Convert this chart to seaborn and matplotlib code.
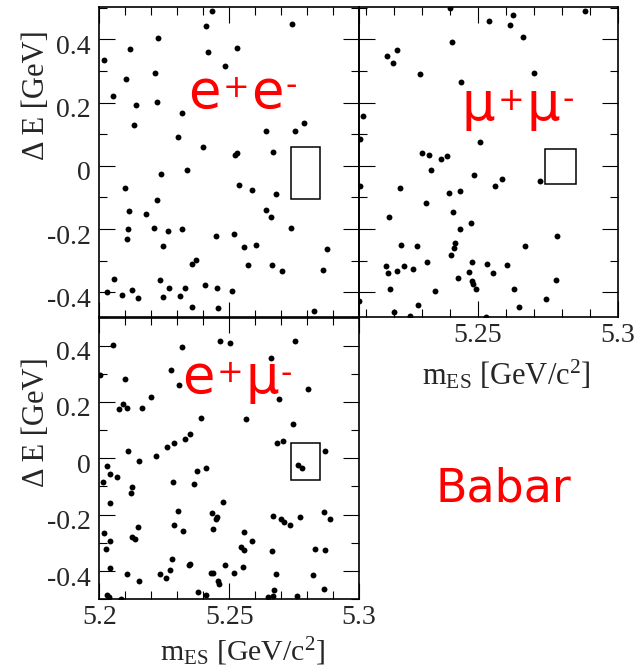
import matplotlib
matplotlib.use("Agg")
import matplotlib.pyplot as plt
import matplotlib.transforms as mtransforms
from matplotlib.patches import Rectangle
from matplotlib.text import Annotation
from matplotlib.ticker import FixedLocator, MultipleLocator, FixedFormatter
import pandas as pd
import seaborn as sns

# ---------------- data ----------------
# e+e- channel (top-left)
ee_mes = [5.2433, 5.2411, 5.2742, 5.2227, 5.2118, 5.2418, 5.2530, 5.2017, 5.2485, 5.2103,
          5.2214, 5.2052, 5.2143, 5.2222, 5.2318, 5.2135, 5.2302, 5.2400, 5.2525, 5.2531,
          5.2641, 5.2756, 5.2790, 5.2671, 5.2237, 5.2337, 5.2098, 5.2537, 5.2588, 5.2681,
          5.2224, 5.2114, 5.2180, 5.2641, 5.2661, 5.2109, 5.2210, 5.2266, 5.2320, 5.2451,
          5.2520, 5.2739, 5.2107, 5.2246, 5.2558, 5.2604, 5.2878, 5.2357, 5.2372, 5.2574,
          5.2665, 5.2704, 5.2861, 5.2057, 5.2233, 5.2030, 5.2088, 5.2125, 5.2149, 5.2269,
          5.2247, 5.2311, 5.2330, 5.2407, 5.2455, 5.2510, 5.2359, 5.2458, 5.2828]
ee_de = [0.490, 0.442, 0.448, 0.403, 0.370, 0.359, 0.374, 0.333, 0.316, 0.273,
         0.293, 0.220, 0.191, 0.201, 0.167, 0.128, 0.092, 0.060, 0.034, 0.040,
         0.109, 0.111, 0.134, 0.044, -0.026, -0.013, -0.069, -0.062, -0.076, -0.088,
         -0.108, -0.144, -0.153, -0.140, -0.161, -0.201, -0.196, -0.206, -0.200, -0.221,
         -0.215, -0.197, -0.230, -0.252, -0.257, -0.249, -0.262, -0.311, -0.297, -0.313,
         -0.314, -0.332, -0.329, -0.359, -0.361, -0.400, -0.409, -0.392, -0.418, -0.387,
         -0.415, -0.412, -0.385, -0.376, -0.386, -0.396, -0.446, -0.448, -0.460]

# mu+mu- channel (top-right)
mm_mes = [5.2402, 5.2882, 5.2540, 5.2625, 5.2615, 5.2663, 5.2408, 5.2175, 5.2211, 5.2195,
          5.2292, 5.2440, 5.2700, 5.2089, 5.2079, 5.2507, 5.2299, 5.2324, 5.2389, 5.2369,
          5.2331, 5.2080, 5.2221, 5.2485, 5.2586, 5.2561, 5.2724, 5.2396, 5.2437, 5.2314,
          5.2183, 5.2412, 5.2476, 5.2438, 5.2782, 5.2225, 5.2281, 5.2420, 5.2414, 5.2669,
          5.2405, 5.2171, 5.2180, 5.2211, 5.2237, 5.2270, 5.2318, 5.2478, 5.2532, 5.2603,
          5.2468, 5.2555, 5.2431, 5.2479, 5.2483, 5.2492, 5.2780, 5.2185, 5.2348, 5.2628,
          5.2076, 5.2743, 5.2286, 5.2201, 5.2257, 5.2646, 5.2531]
mm_de = [0.499, 0.490, 0.458, 0.477, 0.445, 0.407, 0.391, 0.348, 0.366, 0.326,
         0.290, 0.266, 0.293, 0.158, 0.085, 0.076, 0.040, 0.033, 0.031, 0.021,
         -0.013, -0.065, -0.071, -0.029, -0.042, -0.064, -0.047, -0.086, -0.079, -0.117,
         -0.163, -0.146, -0.181, -0.200, -0.222, -0.249, -0.253, -0.244, -0.259, -0.252,
         -0.283, -0.318, -0.338, -0.331, -0.318, -0.325, -0.305, -0.303, -0.310, -0.314,
         -0.335, -0.340, -0.354, -0.365, -0.374, -0.391, -0.362, -0.390, -0.396, -0.389,
         -0.428, -0.420, -0.439, -0.462, -0.475, -0.447, -0.478]

# e+mu- channel (bottom-left)
em_mes = [5.2051, 5.2003, 5.2099, 5.2076, 5.2091, 5.2105, 5.2163, 5.2198, 5.2275, 5.2307,
          5.2317, 5.2465, 5.2503, 5.2662, 5.2754, 5.2805, 5.2692, 5.2565, 5.2392, 5.2745,
          5.2349, 5.2331, 5.2288, 5.2262, 5.2686, 5.2709, 5.2109, 5.2870, 5.2217, 5.2153,
          5.2028, 5.2042, 5.2067, 5.2014, 5.2284, 5.2376, 5.2411, 5.2365, 5.2126, 5.2121,
          5.2042, 5.2476, 5.2304, 5.2434, 5.2454, 5.2449, 5.2438, 5.2286, 5.2323, 5.2148,
          5.2126, 5.2136, 5.2017, 5.2041, 5.2027, 5.2040, 5.2281, 5.2272, 5.2258, 5.2234,
          5.2349, 5.2344, 5.2379, 5.2410, 5.2431, 5.2436, 5.2456, 5.2460, 5.2483, 5.2519,
          5.2553, 5.2544, 5.2556, 5.2556, 5.2588, 5.2669, 5.2698, 5.2712, 5.2736, 5.2774,
          5.2664, 5.2680, 5.2674, 5.2648, 5.2669, 5.2760, 5.2823, 5.2832, 5.2868, 5.2867,
          5.2865, 5.2890, 5.2765, 5.2782, 5.2107, 5.2154, 5.2028, 5.2036, 5.2082]
em_de = [0.403, 0.294, 0.280, 0.174, 0.193, 0.178, 0.177, 0.216, 0.312, 0.261,
         0.393, 0.415, 0.410, 0.355, 0.417, 0.246, 0.212, 0.141, 0.144, 0.123,
         0.085, 0.067, 0.054, 0.041, 0.054, 0.063, 0.027, 0.026, 0.007, -0.009,
         -0.026, -0.054, -0.066, -0.083, -0.083, -0.046, -0.033, -0.092, -0.102, -0.123,
         -0.157, -0.156, -0.188, -0.195, -0.209, -0.217, -0.252, -0.238, -0.258, -0.245,
         -0.279, -0.286, -0.265, -0.295, -0.320, -0.390, -0.356, -0.396, -0.423, -0.410,
         -0.375, -0.377, -0.475, -0.484, -0.408, -0.405, -0.436, -0.445, -0.380, -0.406,
         -0.386, -0.316, -0.325, -0.262, -0.293, -0.204, -0.215, -0.225, -0.238, -0.208,
         -0.330, -0.411, -0.467, -0.493, -0.490, -0.487, -0.414, -0.320, -0.325, -0.462,
         -0.189, -0.216, -0.025, -0.033, -0.409, -0.436, -0.484, -0.492, -0.499]

# signal boxes (mES range, DeltaE range)
ee_box_mes = [5.2740, 5.2850]
ee_box_de = [-0.104, 0.058]
mm_box_mes = [5.2739, 5.2850]
mm_box_de = [-0.056, 0.053]
em_box_mes = [5.2738, 5.2850]
em_box_de = [-0.078, 0.054]

# ticks / labels
mes_ticks = [5.2, 5.25, 5.3]
mes_ticklabels = ["5.2", "5.25", "5.3"]
de_ticks = [-0.4, -0.2, 0.0, 0.2, 0.4]
de_ticklabels = ["-0.4", "-0.2", "0", "0.2", "0.4"]
xlabel_text = r"m$_{\mathrm{ES}}$ [GeV/c$^{2}$]"
ylabel_text = "Δ E [GeV]"
experiment = "Babar"
# channel labels as (glyph, superscript?) pieces
ee_label = [("e", False), ("+", True), ("e", False), ("-", True)]
mm_label = [("μ", False), ("+", True), ("μ", False), ("-", True)]
em_label = [("e", False), ("+", True), ("μ", False), ("-", True)]

# ---------------- style ----------------
sns.set_theme(style="white")
plt.rcParams.update({
    "font.family": ["Liberation Serif", "DejaVu Serif"],
    "axes.unicode_minus": False,
    "mathtext.fontset": "custom",
    "mathtext.rm": "Liberation Serif",
    "mathtext.it": "Liberation Serif:italic",
    "mathtext.bf": "Liberation Serif:bold",
})

W, H = 641, 668
fig = plt.figure(figsize=(W / 100, H / 100), dpi=100)
fig.patch.set_facecolor("white")


def add_ax(x0, x1, ytop, ybot):
    return fig.add_axes([x0 / W, 1 - ybot / H, (x1 - x0) / W, (ybot - ytop) / H])


def style(ax, xlim, ylim, show_x, show_y):
    ax.set_xlim(xlim)
    ax.set_ylim(ylim)
    ax.set_facecolor("none")
    ax.xaxis.set_major_locator(FixedLocator(mes_ticks))
    ax.xaxis.set_major_formatter(FixedFormatter(mes_ticklabels))
    ax.xaxis.set_minor_locator(MultipleLocator(0.01))
    ax.yaxis.set_major_locator(FixedLocator(de_ticks))
    ax.yaxis.set_major_formatter(FixedFormatter(de_ticklabels))
    ax.yaxis.set_minor_locator(MultipleLocator(0.1))
    ax.tick_params(which="both", direction="in", top=True, right=True,
                   bottom=True, left=True, color="black")
    ax.tick_params(which="major", length=11.5, width=0.8)
    ax.tick_params(which="minor", length=6, width=0.8)
    ax.tick_params(axis="x", labelbottom=show_x, labelsize=20, pad=4)
    ax.tick_params(axis="y", labelleft=show_y, labelsize=20, pad=6)
    for s in ax.spines.values():
        s.set_visible(True)
        s.set_linewidth(1.2)
        s.set_color("black")
    ax.set_xlabel("")
    ax.set_ylabel("")
    if show_y:
        off = mtransforms.ScaledTranslation(0, -5 / 100, fig.dpi_scale_trans)
        for lab in ax.get_yticklabels():
            lab.set_transform(lab.get_transform() + off)


def draw(ax, xs, ys, bx, by):
    df = pd.DataFrame({"mES": xs, "dE": ys})
    sns.scatterplot(data=df, x="mES", y="dE", ax=ax, color="black", s=18,
                    linewidth=0, legend=False, zorder=3)
    ax.add_patch(Rectangle((bx[0], by[0]), bx[1] - bx[0], by[1] - by[0],
                           fill=False, edgecolor="black", linewidth=1.1, zorder=4))


ax_tl = add_ax(99.3, 358.7, 6.7, 317.7)
draw(ax_tl, ee_mes, ee_de, ee_box_mes, ee_box_de)
style(ax_tl, (5.2, 5.3), (-0.48, 0.503), False, True)

ax_tr = add_ax(359.0, 617.5, 6.7, 317.0)
draw(ax_tr, mm_mes, mm_de, mm_box_mes, mm_box_de)
style(ax_tr, (5.2075, 5.3), (-0.478, 0.503), True, False)

ax_bl = add_ax(99.3, 359.0, 317.3, 599.3)
draw(ax_bl, em_mes, em_de, em_box_mes, em_box_de)
style(ax_bl, (5.2, 5.3), (-0.5, 0.5), True, True)

# axis titles
serif = ["Liberation Serif", "DejaVu Serif"]
fig.text(36 / W, 1 - 95 / H, ylabel_text, rotation=90, ha="center", va="center",
         fontsize=22, family=serif)
fig.text(37 / W, 1 - 422 / H, ylabel_text, rotation=90, ha="center", va="center",
         fontsize=22, family=serif)
fig.text(243 / W, 1 - 660.5 / H, xlabel_text, ha="center", va="baseline",
         fontsize=21.5, family=serif)
fig.text(506.7 / W, 1 - 384.3 / H, xlabel_text, ha="center", va="baseline",
         fontsize=22, family=serif)

# channel labels: pieces chained left to right, superscripts raised
red = "#ff0000"
sans = ["DejaVu Sans"]


def put_label(pieces, x0, base, raises, gap_px=2.0):
    prev = None
    for (glyph, sup), r in zip(pieces, raises):
        y_fig = H - (base - r)
        size = 23 if sup else 38
        if prev is None:
            prev = fig.text(x0 / W, y_fig / H, glyph, color=red, fontsize=size,
                            ha="left", va="baseline", family=sans)
        else:
            ann = Annotation(glyph, xy=(1.0, y_fig),
                             xycoords=(prev, "figure pixels"),
                             xytext=(gap_px * 0.72, 0), textcoords="offset points",
                             color=red, fontsize=size, ha="left", va="baseline",
                             family=sans, annotation_clip=False)
            fig.add_artist(ann)
            prev = ann


put_label(ee_label, 188, 108, [0, 11, 0, 13])
put_label(mm_label, 462, 120, [0, 10, 0, 11])
put_label(em_label, 182, 393, [0, 11, 0, 10])

fig.text(435 / W, 1 - 501 / H, experiment, color=red, fontsize=33, ha="left",
         va="baseline", family=sans)

fig.savefig("out.png", dpi=100, facecolor="white")
